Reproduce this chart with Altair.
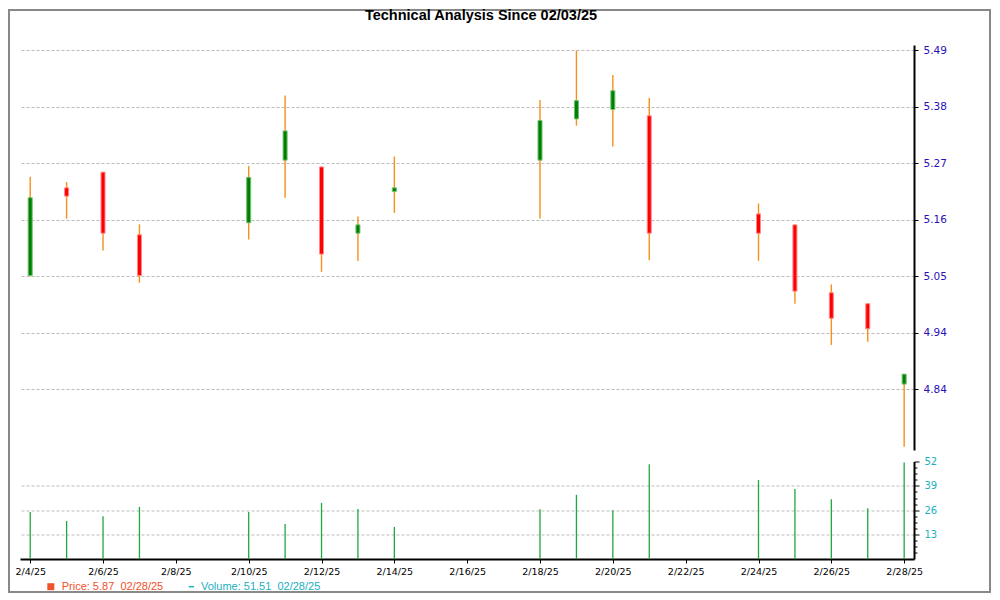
import altair as alt
import pandas as pd

TITLE = "Technical Analysis Since 02/03/25"

DAYS = [4, 5, 6, 7, 10, 11, 12, 13, 14, 18, 19, 20, 21, 24, 25, 26, 27, 28]
OPEN = [5.058, 5.226, 5.256, 5.136, 5.159, 5.279, 5.266, 5.139, 5.219,
        5.279, 5.358, 5.376, 5.364, 5.176, 5.155, 5.025, 5.004, 4.850]
HIGH = [5.247, 5.237, 5.256, 5.156, 5.268, 5.403, 5.266, 5.171, 5.286,
        5.394, 5.489, 5.442, 5.398, 5.196, 5.155, 5.041, 5.004, 4.869]
LOW = [5.056, 5.167, 5.106, 5.044, 5.127, 5.207, 5.065, 5.086, 5.178,
       5.167, 5.345, 5.305, 5.087, 5.086, 5.004, 4.925, 4.931, 4.730]
CLOSE = [5.207, 5.210, 5.139, 5.058, 5.246, 5.335, 5.099, 5.155, 5.226,
         5.355, 5.393, 5.412, 5.139, 5.139, 5.028, 4.976, 4.956, 4.869]
VOLUME = [25.1, 20.3, 22.8, 27.8, 25.1, 18.7, 29.9, 26.7, 17.1,
          26.6, 34.2, 26.0, 50.6, 42.1, 37.3, 31.9, 27.1, 51.51]

X_TICKS = [4, 6, 8, 10, 12, 14, 16, 18, 20, 22, 24, 26, 28]
PRICE_TICKS = [4.84, 4.948333, 5.056667, 5.165, 5.273333, 5.381667, 5.49]
VOL_TICKS = [3.25, 6.5, 9.75, 13, 16.25, 19.5, 22.75, 26, 29.25, 32.5,
             35.75, 39, 42.25, 45.5, 48.75, 52]
LEGEND_LABELS = ["Price: 5.87\u00a0\u00a002/28/25", "Volume: 51.51\u00a0\u00a002/28/25"]

X_DOMAIN = [3.72, 28.27]
PRICE_DOMAIN = [4.7237, 5.4996]
VOL_DOMAIN = [0, 52]

GREEN = "#008000"
RED = "#ff0000"
WICK = "#f5901a"
VOL_GREEN = "#1fa83f"
PRICE_LBL = "#2b10b8"
VOL_LBL = "#20b0c0"
LEG_PRICE = "#f0502a"
GRID = "#bbbbbb"

df = pd.DataFrame(dict(day=DAYS, open=OPEN, high=HIGH, low=LOW,
                       close=CLOSE, volume=VOLUME))
one = pd.DataFrame({"label": [TITLE]})
leg_price = pd.DataFrame({"label": [LEGEND_LABELS[0]]})
leg_vol = pd.DataFrame({"label": [LEGEND_LABELS[1]]})

W = 894
H_PRICE = 405
H_VOL = 97.5

x_scale = alt.Scale(domain=X_DOMAIN, nice=False, zero=False, padding=0)
price_scale = alt.Scale(domain=PRICE_DOMAIN, nice=False, zero=False)
price_axis = alt.Axis(
    orient="right", values=PRICE_TICKS,
    labelExpr="format(floor(datum.value*100+0.001)/100, '.2f')",
    labelFont="DejaVu Sans", labelFontSize=10.5, labelColor=PRICE_LBL,
    labelPadding=5, labelOverlap=False,
    domainColor="black", domainWidth=2,
    tickColor="black", tickSize=4, tickWidth=1,
    grid=True, gridColor=GRID, gridDash=[3, 2], gridWidth=1,
    title=None,
)

frame = alt.Chart(one).mark_rect(fillOpacity=0, stroke="#888888", strokeWidth=2).encode(
    x=alt.value(-11), x2=alt.value(970), y=alt.value(-35), y2=alt.value(547)
)
title = alt.Chart(one).mark_text(
    font="Liberation Sans", fontSize=14.5, fontWeight="bold", color="black",
    align="center", baseline="top"
).encode(text="label:N", x=alt.value(461), y=alt.value(-36))

wicks = alt.Chart(df).mark_rule(color=WICK, strokeWidth=1.4).encode(
    x=alt.X("day:Q", scale=x_scale, axis=None),
    y=alt.Y("low:Q", scale=price_scale, axis=price_axis),
    y2="high:Q",
)
bodies = alt.Chart(df).mark_bar(size=4, strokeWidth=1).encode(
    x=alt.X("day:Q", scale=x_scale, axis=None),
    y=alt.Y("open:Q", scale=price_scale, axis=price_axis),
    y2="close:Q",
    color=alt.condition("datum.close > datum.open", alt.value(GREEN), alt.value(RED)),
    stroke=alt.condition("datum.close > datum.open", alt.value("#6fbf6f"), alt.value("#ff8a8a")),
)

price = alt.layer(frame, title, wicks, bodies).properties(width=W, height=H_PRICE)

vol_axis = alt.Axis(
    orient="right", values=VOL_TICKS,
    labelExpr="datum.value % 13 === 0 ? format(datum.value, 'd') : ''",
    labelFont="DejaVu Sans", labelFontSize=10, labelColor=VOL_LBL,
    labelPadding=5, labelOverlap=False,
    domainColor="black", domainWidth=2,
    tickColor="black", tickWidth=1,
    tickSize={"condition": {"test": "datum.value % 13 === 0", "value": 5}, "value": 3},
    grid=True, gridColor=GRID, gridDash=[3, 2], gridWidth=1,
    gridOpacity={"condition": {"test": "datum.value % 13 === 0 && datum.value < 52", "value": 1}, "value": 0},
    title=None,
)
x_axis = alt.Axis(
    values=X_TICKS, labelExpr="'2/' + datum.value + '/25'",
    labelFont="DejaVu Sans", labelFontSize=9.5, labelColor="black",
    labelPadding=3, labelOverlap=False, labelFlush=False,
    domainColor="black", domainWidth=2,
    tickColor="black", tickSize=4, tickWidth=1,
    grid=False, title=None,
)

vol_bars = alt.Chart(df).mark_rule(color=VOL_GREEN, strokeWidth=1.3).encode(
    x=alt.X("day:Q", scale=x_scale, axis=x_axis),
    y=alt.Y("volume:Q", scale=alt.Scale(domain=VOL_DOMAIN, nice=False), axis=vol_axis),
    y2=alt.datum(0),
)

leg_sq = alt.Chart(leg_price).mark_point(shape="square", filled=True, size=49,
                                         color=LEG_PRICE, opacity=1).encode(
    x=alt.value(30.8), y=alt.value(125.2)
)
leg_ptxt = alt.Chart(leg_price).mark_text(
    font="Liberation Sans", fontSize=11, color=LEG_PRICE, align="left", baseline="alphabetic"
).encode(text="label:N", x=alt.value(41.7), y=alt.value(128.8))
leg_dash = alt.Chart(leg_vol).mark_rule(color=VOL_LBL, strokeWidth=1.5).encode(
    x=alt.value(168.7), x2=alt.value(174), y=alt.value(125.2)
)
leg_vtxt = alt.Chart(leg_vol).mark_text(
    font="Liberation Sans", fontSize=11, color=VOL_LBL, align="left", baseline="alphabetic"
).encode(text="label:N", x=alt.value(181), y=alt.value(128.8))

volume = alt.layer(vol_bars, leg_sq, leg_ptxt, leg_dash, leg_vtxt).properties(
    width=W, height=H_VOL
)

chart = alt.vconcat(price, volume, spacing=11.5).properties(
    padding=0, bounds="flush"
).configure_view(stroke=None)

chart.save("out.html", embed_options={"renderer": "svg", "actions": False})
